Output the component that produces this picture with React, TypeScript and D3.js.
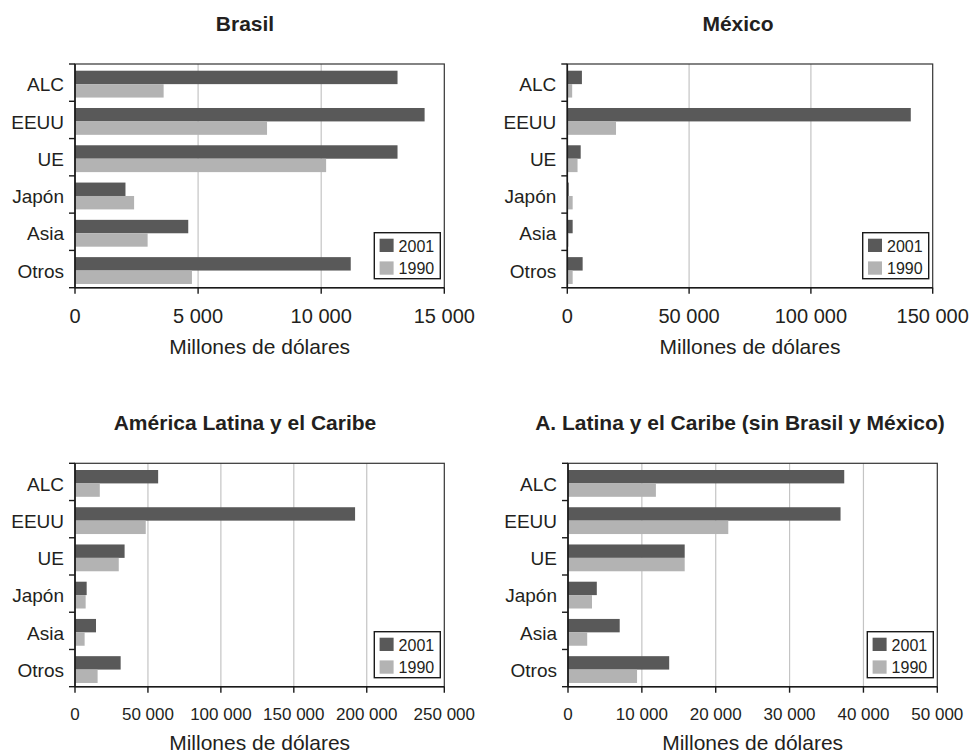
import React from "react";
import * as d3 from "d3";

// ---------- Data ----------
const categories = ["ALC", "EEUU", "UE", "Japón", "Asia", "Otros"];
const seriesNames = ["2001", "1990"];

const brasil2001 = [13100, 14200, 13100, 2050, 4600, 11200];
const brasil1990 = [3600, 7800, 10200, 2400, 2950, 4750];

const mexico2001 = [6000, 141000, 5500, 600, 2200, 6300];
const mexico1990 = [2000, 20000, 4200, 2200, 500, 2200];

const alc2001 = [57000, 192000, 34000, 8000, 14400, 31300];
const alc1990 = [17000, 48500, 30000, 7300, 6600, 15500];

const resto2001 = [37400, 36900, 15800, 3900, 7000, 13700];
const resto1990 = [11900, 21700, 15800, 3250, 2600, 9350];

const brasilTicks = [0, 5000, 10000, 15000];
const mexicoTicks = [0, 50000, 100000, 150000];
const alcTicks = [0, 50000, 100000, 150000, 200000, 250000];
const restoTicks = [0, 10000, 20000, 30000, 40000, 50000];

const titles = [
  "Brasil",
  "México",
  "América Latina y el Caribe",
  "A. Latina y el Caribe (sin Brasil y México)",
];
const axisTitle = "Millones de dólares";

// ---------- Style ----------
const COLORS = ["#595959", "#b3b3b3"];
const FONT = "'Liberation Sans', Arial, Helvetica, sans-serif";
const TEXT = "#231f20";

const locale = d3.formatLocale({
  decimal: ",",
  thousands: "\u00a0",
  grouping: [3],
  currency: ["", ""],
});
const fmt = locale.format(",");

type PanelProps = {
  title: string;
  titleX: number;
  titleY: number;
  left: number;
  right: number;
  top: number;
  bottom: number;
  v2001: number[];
  v1990: number[];
  ticks: number[];
  domain: number[];
  frac: number[];
  tickY: number;
  tickSize: number;
  axisTitleY: number;
};

function Panel(p: PanelProps) {
  const w = p.right - p.left;
  const x = d3
    .scaleLinear()
    .domain(p.domain)
    .range(p.frac.map((f) => p.left + f * w));
  const y = d3
    .scaleBand<string>()
    .domain(categories)
    .range([p.top, p.bottom])
    .padding(0);
  const step = y.step();
  const barH = 0.36 * step;
  const off = 0.18 * step;
  const boundaries = d3.range(categories.length + 1).map((i) => p.top + i * step);
  const legendW = 66;
  const legendH = 46;
  const lx = p.right - 4 - legendW;
  const ly = p.bottom - 9 - legendH;
  const values = [p.v2001, p.v1990];

  return (
    <g>
      <text
        x={p.titleX}
        y={p.titleY}
        textAnchor="middle"
        fontWeight="bold"
        fontSize={21}
        fill={TEXT}
      >
        {p.title}
      </text>
      {p.ticks.slice(1, -1).map((t) => (
        <line
          key={"g" + t}
          x1={x(t)}
          x2={x(t)}
          y1={p.top}
          y2={p.bottom}
          stroke="#c4c4c4"
          strokeWidth={1.2}
        />
      ))}
      {categories.map((c, i) =>
        values.map((vals, s) => (
          <rect
            key={c + s}
            x={x(0)}
            y={(y(c) as number) + off + s * barH}
            width={Math.max(0, x(vals[i]) - x(0))}
            height={barH}
            fill={COLORS[s]}
          />
        ))
      )}
      <rect
        x={p.left}
        y={p.top}
        width={w}
        height={p.bottom - p.top}
        fill="none"
        stroke="#333"
        strokeWidth={1.2}
      />
      <line x1={p.left} x2={p.left} y1={p.top} y2={p.bottom} stroke="#1a1a1a" strokeWidth={1.6} />
      <line x1={p.left} x2={p.right} y1={p.bottom} y2={p.bottom} stroke="#1a1a1a" strokeWidth={1.6} />
      {boundaries.map((b, i) => (
        <line key={"yt" + i} x1={p.left - 6} x2={p.left} y1={b} y2={b} stroke="#1a1a1a" strokeWidth={1.4} />
      ))}
      {p.ticks.map((t) => (
        <g key={"xt" + t}>
          <line x1={x(t)} x2={x(t)} y1={p.bottom} y2={p.bottom + 6} stroke="#1a1a1a" strokeWidth={1.4} />
          <text x={x(t)} y={p.tickY} textAnchor="middle" fontSize={p.tickSize} fill={TEXT}>
            {fmt(t)}
          </text>
        </g>
      ))}
      {categories.map((c) => (
        <text
          key={"cl" + c}
          x={p.left - 11}
          y={(y(c) as number) + step / 2 + 8.7}
          textAnchor="end"
          fontSize={19}
          fill={TEXT}
        >
          {c}
        </text>
      ))}
      <text
        x={p.left + w / 2}
        y={p.axisTitleY}
        textAnchor="middle"
        fontSize={21}
        fill={TEXT}
      >
        {axisTitle}
      </text>
      <rect x={lx} y={ly} width={legendW} height={legendH} fill="white" stroke="#1a1a1a" strokeWidth={1.4} />
      {seriesNames.map((s, i) => (
        <g key={"lg" + s}>
          <rect x={lx + 5.3} y={ly + 6 + i * 22.7} width={14} height={13.3} fill={COLORS[i]} />
          <text x={lx + 24.3} y={ly + 19 + i * 22.7} fontSize={16} fill={TEXT}>
            {s}
          </text>
        </g>
      ))}
    </g>
  );
}

export default function App() {
  return (
    <svg
      width={971}
      height={753}
      style={{ position: "absolute", left: 0, top: 0, background: "white" }}
      fontFamily={FONT}
    >
      <rect x={0} y={0} width={971} height={753} fill="white" />
      <Panel
        title={titles[0]}
        titleX={245}
        titleY={31}
        left={75}
        right={444.3}
        top={64}
        bottom={287.7}
        v2001={brasil2001}
        v1990={brasil1990}
        ticks={brasilTicks}
        domain={[0, 15000]}
        frac={[0, 1]}
        tickY={322.7}
        tickSize={20}
        axisTitleY={354}
      />
      <Panel
        title={titles[1]}
        titleX={738}
        titleY={31}
        left={567.3}
        right={932.7}
        top={64}
        bottom={287.7}
        v2001={mexico2001}
        v1990={mexico1990}
        ticks={mexicoTicks}
        domain={[0, 150000]}
        frac={[0, 1]}
        tickY={322.7}
        tickSize={20}
        axisTitleY={354}
      />
      <Panel
        title={titles[2]}
        titleX={245}
        titleY={430}
        left={75}
        right={444.3}
        top={463.3}
        bottom={686.7}
        v2001={alc2001}
        v1990={alc1990}
        ticks={alcTicks}
        domain={[0, 200000, 250000]}
        frac={[0, 0.79, 1]}
        tickY={719.5}
        tickSize={17}
        axisTitleY={750}
      />
      <Panel
        title={titles[3]}
        titleX={740}
        titleY={430}
        left={568}
        right={937.3}
        top={463.3}
        bottom={686.7}
        v2001={resto2001}
        v1990={resto1990}
        ticks={restoTicks}
        domain={[0, 50000]}
        frac={[0, 1]}
        tickY={719.5}
        tickSize={17}
        axisTitleY={750}
      />
    </svg>
  );
}
